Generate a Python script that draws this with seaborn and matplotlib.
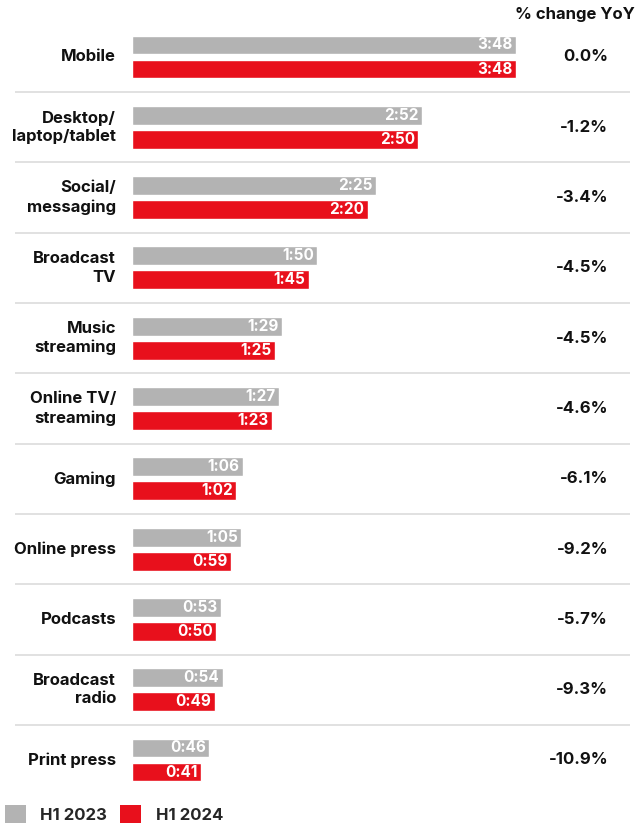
import matplotlib
matplotlib.use("Agg")
import matplotlib.pyplot as plt
import matplotlib.transforms as mtrans
from matplotlib.patches import Patch
import seaborn as sns
import pandas as pd

categories = ["Mobile", "Desktop/\nlaptop/tablet", "Social/\nmessaging", "Broadcast\nTV",
              "Music\nstreaming", "Online TV/\nstreaming", "Gaming", "Online press",
              "Podcasts", "Broadcast\nradio", "Print press"]
h1_2023 = [228, 172, 145, 110, 89, 87, 66, 65, 53, 54, 46]
h1_2024 = [228, 170, 140, 105, 85, 83, 62, 59, 50, 49, 41]
labels_2023 = ["3:48", "2:52", "2:25", "1:50", "1:29", "1:27", "1:06", "1:05", "0:53", "0:54", "0:46"]
labels_2024 = ["3:48", "2:50", "2:20", "1:45", "1:25", "1:23", "1:02", "0:59", "0:50", "0:49", "0:41"]
pct_change = ["0.0%", "-1.2%", "-3.4%", "-4.5%", "-4.5%", "-4.6%", "-6.1%", "-9.2%", "-5.7%", "-9.3%", "-10.9%"]
series = ["H1 2023", "H1 2024"]
colors = ["#b3b3b3", "#e8101c"]

df = pd.DataFrame({
    "category": categories * 2,
    "minutes": h1_2023 + h1_2024,
    "period": [series[0]] * len(categories) + [series[1]] * len(categories),
})

sns.set_theme(style="white")
plt.rcParams["font.family"] = ["Inter", "DejaVu Sans"]

W, H = 639, 824
fig = plt.figure(figsize=(W / 100, H / 100), dpi=100)
ax = fig.add_axes([0, 0, 1, 1])

sns.barplot(data=df, x="minutes", y="category", hue="period", orient="h",
            palette=colors, width=0.683, gap=0.21, ax=ax, legend=False,
            saturation=1)

px_per_min = (516 - 132) / 228.0
ax.set_xlim(-132 / px_per_min, (W - 132) / px_per_min)
pitch = 70.3
ax.set_ylim(10 + (H - 760) / pitch, -57 / pitch)
ax.axis("off")

# value labels inside bars
for cont, labs in zip(ax.containers, [labels_2023, labels_2024]):
    for bar, lab in zip(cont, labs):
        ax.annotate(lab, (bar.get_width(), bar.get_y() + bar.get_height() / 2),
                    xytext=(-2.5, 0), textcoords="offset points", ha="right", va="center",
                    color="white", fontsize=11, fontweight="bold")

tr = mtrans.blended_transform_factory(fig.transFigure, ax.transData)
for i, (cat, pct) in enumerate(zip(categories, pct_change)):
    ax.text(116 / W, i, cat, transform=tr, ha="right", va="center",
            fontsize=12, fontweight="bold", color="#111111", linespacing=1.3)
    ax.text(608 / W, i, pct, transform=tr, ha="right", va="center",
            fontsize=12, fontweight="bold", color="#111111")
    if i < len(categories) - 1:
        ax.plot([15 / W, 630 / W], [i + 0.5, i + 0.5], transform=tr,
                color="#dcdcdc", lw=1.2, solid_capstyle="butt")

fig.text(635 / W, 1 - 14 / H, "% change YoY", ha="right", va="center",
         fontsize=12, fontweight="bold", color="#111111")

handles = [Patch(facecolor=c, edgecolor="none") for c in colors]
leg = fig.legend(handles, series, loc="lower left", bbox_to_anchor=(5 / W, 1 / H),
                 ncol=2, frameon=False, handlelength=1.26, handleheight=1.26,
                 handletextpad=0.85, columnspacing=0.8, borderaxespad=0.0,
                 borderpad=0.0, prop={"size": 12, "weight": "bold"})

fig.savefig("out.png", dpi=100)
